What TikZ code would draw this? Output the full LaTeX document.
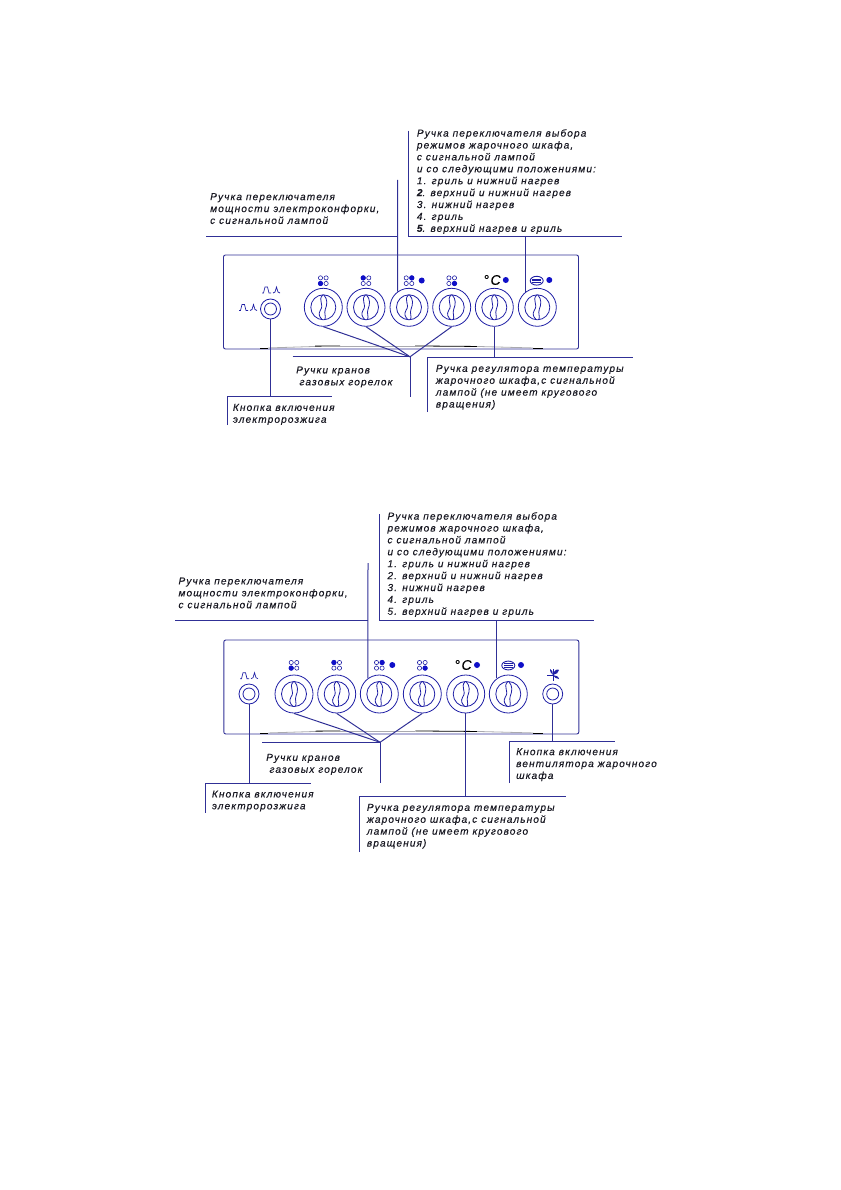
\documentclass[tikz,border=0pt]{standalone}
\usepackage{fontspec}
\newfontfamily\lblfam[LetterSpace=11,FakeBold=0.25]{Liberation Sans}
\usetikzlibrary{positioning,calc}
\definecolor{leadBlue}{RGB}{48,48,150}
\definecolor{knobBlue}{RGB}{30,30,165}
\definecolor{lampBlue}{RGB}{15,15,200}
\definecolor{sheenGray}{RGB}{170,170,175}
\definecolor{lblInk}{RGB}{25,25,35}

\begin{document}
\begin{tikzpicture}[
  x=1pt,y=-1pt,
  panel/.style={draw=leadBlue,rounded corners=2pt,line width=0.9pt,
                minimum width=355pt,minimum height=94pt,inner sep=0pt},
  knob/.style={draw=knobBlue,circle,inner sep=0pt,minimum size=38pt,line width=0.8pt},
  knobhole/.style={draw=knobBlue,circle,inner sep=0pt,minimum size=25pt,line width=0.8pt},
  btn/.style={draw=knobBlue,circle,inner sep=0pt,minimum size=20pt,line width=0.8pt},
  btnhole/.style={draw=knobBlue,circle,inner sep=0pt,minimum size=12pt,line width=0.8pt},
  lamp/.style={fill=lampBlue,circle,inner sep=0pt,minimum size=6pt},
  lead/.style={draw=leadBlue,line width=1pt},
  lbl/.style={anchor=north west,inner sep=0pt,align=left,text=lblInk,
              font=\lblfam\itshape\fontsize{10.1}{11.9}\selectfont},
  degmark/.style={inner sep=0pt,text=black,font=\fontsize{14}{14}\selectfont\lblfam\itshape},
  grip/.pic={
    \draw[knobBlue,line width=0.8pt]
      (-0.5,-12.4) .. controls (-6,-7) and (1.5,-3) .. (-3,3)
      .. controls (-5.5,7) and (-3.5,10) .. (-1,12.4);
    \draw[knobBlue,line width=0.8pt]
      (0.5,-12.4) .. controls (4.5,-8) and (4,-3) .. (2,2)
      .. controls (0.5,6) and (3,9) .. (1.5,12.4);
  },
  burner/.pic={
    \foreach \bx/\by in {-2.8/-2.8,2.8/-2.8,-2.8/2.8,2.8/2.8}
      \draw[knobBlue,line width=0.6pt] (\bx,\by) circle (2.1);
    \fill[lampBlue] (#1) circle (2.6);
  },
  oven/.pic={
    \draw[knobBlue,line width=0.9pt] (0,0) ellipse (6.5 and 4.4);
    \foreach \by in {-1.8,0,1.8}
      \draw[knobBlue,line width=0.8pt] (-4.5,\by) -- (4.5,\by);
  },
  spark/.pic={
    \draw[knobBlue,line width=0.7pt]
      (-9,3) -- (-7.5,3) -- (-6,-3) -- (-3.5,-3) -- (-2,3) -- (0,3);
    \draw[knobBlue,line width=0.7pt]
      (2,3) -- (4,2) -- (5.5,-3) -- (7,2) -- (9,3);
  },
  fanmark/.pic={
    \draw[knobBlue,line width=0.9pt] (0,-5) -- (0,7);
    \draw[knobBlue,line width=0.9pt] (-6,1) -- (0,1);
    \fill[knobBlue] (0,1) .. controls (1,-5) and (5,-5) .. (6,-4)
      .. controls (6,-1) and (3,0) .. (0,1);
    \fill[knobBlue] (0,1) .. controls (3,1) and (6,3) .. (6,5)
      .. controls (3,5) and (1,3) .. (0,1);
    \fill[knobBlue] (0,1) .. controls (-2,-1) and (-4,-3) .. (-3,-5)
      .. controls (-1,-4) and (0,-2) .. (0,1);
  },
  sheen/.pic={
    \draw[black,line width=0.8pt] (-141,-1) -- (-133,-1);
    \draw[sheenGray,line width=0.8pt] (-133,-1.5) -- (-86,-3);
    \draw[black,line width=0.8pt] (-86,-3.3) -- (-61,-3.5);
    \draw[sheenGray,line width=0.8pt] (-61,-3.5) -- (14,-3.5);
    \draw[black,line width=0.8pt] (14,-3.5) -- (76,-3);
    \draw[sheenGray,line width=0.8pt] (76,-3) -- (132,-1.5);
    \draw[black,line width=0.8pt] (132,-1) -- (142,-1);
  }
]
\useasboundingbox (0,0) rectangle (840,1190);

% ==========  Upper panel  ==========
\node[panel] (panelA) at (401,302) {};
\pic at (panelA.south) {sheen};

\foreach \nm/\xx in {knobAa/323.3,knobAb/366,knobAc/409,knobAd/451.7,knobAe/494.3,knobAf/537.3}{
  \node[knob] (\nm) at (\xx,307.3) {};
  \node[knobhole] (\nm-hole) at (\nm) {};
  \pic at (\nm) {grip};
}
\node[btn] (btnA) at (270.5,309) {};
\node[btnhole] (btnA-hole) at (btnA) {};
\pic at (271,290) {spark};
\pic at (248,307.5) {spark};

\pic at (323.3,280.7) {burner={-2.8,2.8}};
\pic at (366,280.7) {burner={-2.8,-2.8}};
\pic at (409,280.7) {burner={2.8,-2.8}};
\pic at (451.7,280.7) {burner={2.8,2.8}};
\node[lamp] (lampAc) at (421.7,280.5) {};
\node[degmark] (degA) at (492,280) {°C};
\node[lamp] (lampAe) at (505.8,280) {};
\pic at (536.7,280.7) {oven};
\node[lamp] (lampAf) at (549.3,280) {};

% callout corners
\coordinate (capPowerA) at (397.7,180);
\coordinate (railPowerA) at (206,236.3);
\coordinate (kneePowerA) at (capPowerA |- railPowerA);
\coordinate (capSelA) at (408.7,130.7);
\coordinate (kneeSelA) at (capSelA |- railPowerA);
\coordinate (railSelA) at (621.7,236.3);
\coordinate (dropSelA) at (knobAf.126 |- railSelA);
\coordinate (hubA) at (410,356.8);
\coordinate (railGasA) at (292.5,356.8);
\coordinate (tailGasA) at (410,397);
\coordinate (kneeIgnA) at (227.3,396);
\coordinate (endIgnA) at (332,396);
\coordinate (tailIgnA) at (227.3,425);
\coordinate (kneeTempA) at (427.7,357);
\coordinate (endTempA) at (633,357);
\coordinate (tailTempA) at (427.7,412);

\draw[lead] (railPowerA) -- (kneePowerA);
\draw[lead] (capPowerA) -- (knobAc.126);
\draw[lead] (capSelA) -- (kneeSelA) -- (railSelA);
\draw[lead] (dropSelA) -- (knobAf.126);
\foreach \nm in {knobAa,knobAb,knobAd}
  \draw[lead] (\nm.south) -- (hubA);
\draw[lead] (railGasA) -- (hubA) -- (tailGasA);
\draw[lead] (btnA.south) -- (btnA.south |- kneeIgnA);
\draw[lead] (tailIgnA) -- (kneeIgnA) -- (endIgnA);
\draw[lead] (knobAe.south) -- (knobAe.south |- kneeTempA);
\draw[lead] (tailTempA) -- (kneeTempA) -- (endTempA);

\node[lbl] (powerA) at (210,193) {Ручка переключателя\\мощности электроконфорки,\\с сигнальной лампой};
\node[lbl] (selA) at (416.7,129) {Ручка переключателя выбора\\режимов жарочного шкафа,\\с сигнальной лампой\\и со следующими положениями:\\1. гриль и нижний нагрев\\\textbf{2}. верхний и нижний нагрев\\3. нижний нагрев\\4. гриль\\\textbf{5}. верхний нагрев и гриль};
\node[lbl] (gasA) at (296,366.3) {Ручки кранов\\\hspace*{3.3pt}газовых горелок};
\node[lbl] (ignA) at (232.7,403.7) {Кнопка включения\\электророзжига};
\node[lbl] (tempA) at (435.7,364.7) {Ручка регулятора температуры\\жарочного шкафа,с сигнальной\\лампой (не имеет кругового\\вращения)};

% ==========  Lower panel  ==========
\node[panel] (panelB) at (401.3,687) {};
\pic at (panelB.south) {sheen};

\foreach \nm/\xx in {knobBa/294,knobBb/336.7,knobBc/379.3,knobBd/422.3,knobBe/465.7,knobBf/508.3}{
  \node[knob] (\nm) at (\xx,694) {};
  \node[knobhole] (\nm-hole) at (\nm) {};
  \pic at (\nm) {grip};
}
\node[btn] (btnB) at (249,694) {};
\node[btnhole] (btnB-hole) at (btnB) {};
\pic at (249,675.7) {spark};
\node[btn] (btnC) at (552.7,694) {};
\node[btnhole] (btnC-hole) at (btnC) {};
\pic at (553,674) {fanmark};

\pic at (294,665.3) {burner={-2.8,2.8}};
\pic at (336.7,665.3) {burner={-2.8,-2.8}};
\pic at (379.3,665.3) {burner={2.8,-2.8}};
\pic at (422.3,665.3) {burner={2.8,2.8}};
\node[lamp] (lampBc) at (392.3,665) {};
\node[degmark] (degB) at (463,665) {°C};
\node[lamp] (lampBe) at (477,665) {};
\pic at (508.3,665.5) {oven};
\node[lamp] (lampBf) at (521,665) {};

% callout corners
\coordinate (capPowerB) at (368,563);
\coordinate (railPowerB) at (175,620.7);
\coordinate (kneePowerB) at (capPowerB |- railPowerB);
\coordinate (capSelB) at (379,514);
\coordinate (kneeSelB) at (capSelB |- railPowerB);
\coordinate (railSelB) at (594,620.7);
\coordinate (dropSelB) at (knobBf.126 |- railSelB);
\coordinate (hubB) at (380,742.3);
\coordinate (railGasB) at (262.3,742.3);
\coordinate (tailGasB) at (380,783.3);
\coordinate (kneeIgnB) at (205.7,783.3);
\coordinate (endIgnB) at (311,783.3);
\coordinate (tailIgnB) at (205.7,812.7);
\coordinate (kneeTempB) at (359.3,796);
\coordinate (endTempB) at (566,796);
\coordinate (tailTempB) at (359.3,852);
\coordinate (kneeFanB) at (509.7,741.7);
\coordinate (endFanB) at (615,741.7);
\coordinate (tailFanB) at (509.7,783);

\draw[lead] (railPowerB) -- (kneePowerB);
\draw[lead] (capPowerB) -- (knobBc.126);
\draw[lead] (capSelB) -- (kneeSelB) -- (railSelB);
\draw[lead] (dropSelB) -- (knobBf.126);
\foreach \nm in {knobBa,knobBb,knobBd}
  \draw[lead] (\nm.south) -- (hubB);
\draw[lead] (railGasB) -- (hubB) -- (tailGasB);
\draw[lead] (btnB.south) -- (btnB.south |- kneeIgnB);
\draw[lead] (tailIgnB) -- (kneeIgnB) -- (endIgnB);
\draw[lead] (knobBe.south) -- (knobBe.south |- kneeTempB);
\draw[lead] (tailTempB) -- (kneeTempB) -- (endTempB);
\draw[lead] (btnC.south) -- (btnC.south |- kneeFanB);
\draw[lead] (tailFanB) -- (kneeFanB) -- (endFanB);

\node[lbl] (powerB) at (178.3,577.3) {Ручка переключателя\\мощности электроконфорки,\\с сигнальной лампой};
\node[lbl] (selB) at (387.3,512) {Ручка переключателя выбора\\режимов жарочного шкафа,\\с сигнальной лампой\\и со следующими положениями:\\1. гриль и нижний нагрев\\2. верхний и нижний нагрев\\3. нижний нагрев\\4. гриль\\5. верхний нагрев и гриль};
\node[lbl] (gasB) at (266,753.7) {Ручки кранов\\\hspace*{3.3pt}газовых горелок};
\node[lbl] (ignB) at (211.7,790.3) {Кнопка включения\\электророзжига};
\node[lbl] (tempB) at (366.7,803.7) {Ручка регулятора температуры\\жарочного шкафа,с сигнальной\\лампой (не имеет кругового\\вращения)};
\node[lbl] (fanB) at (516,748) {Кнопка включения\\вентилятора жарочного\\шкафа};

\end{tikzpicture}
\end{document}
